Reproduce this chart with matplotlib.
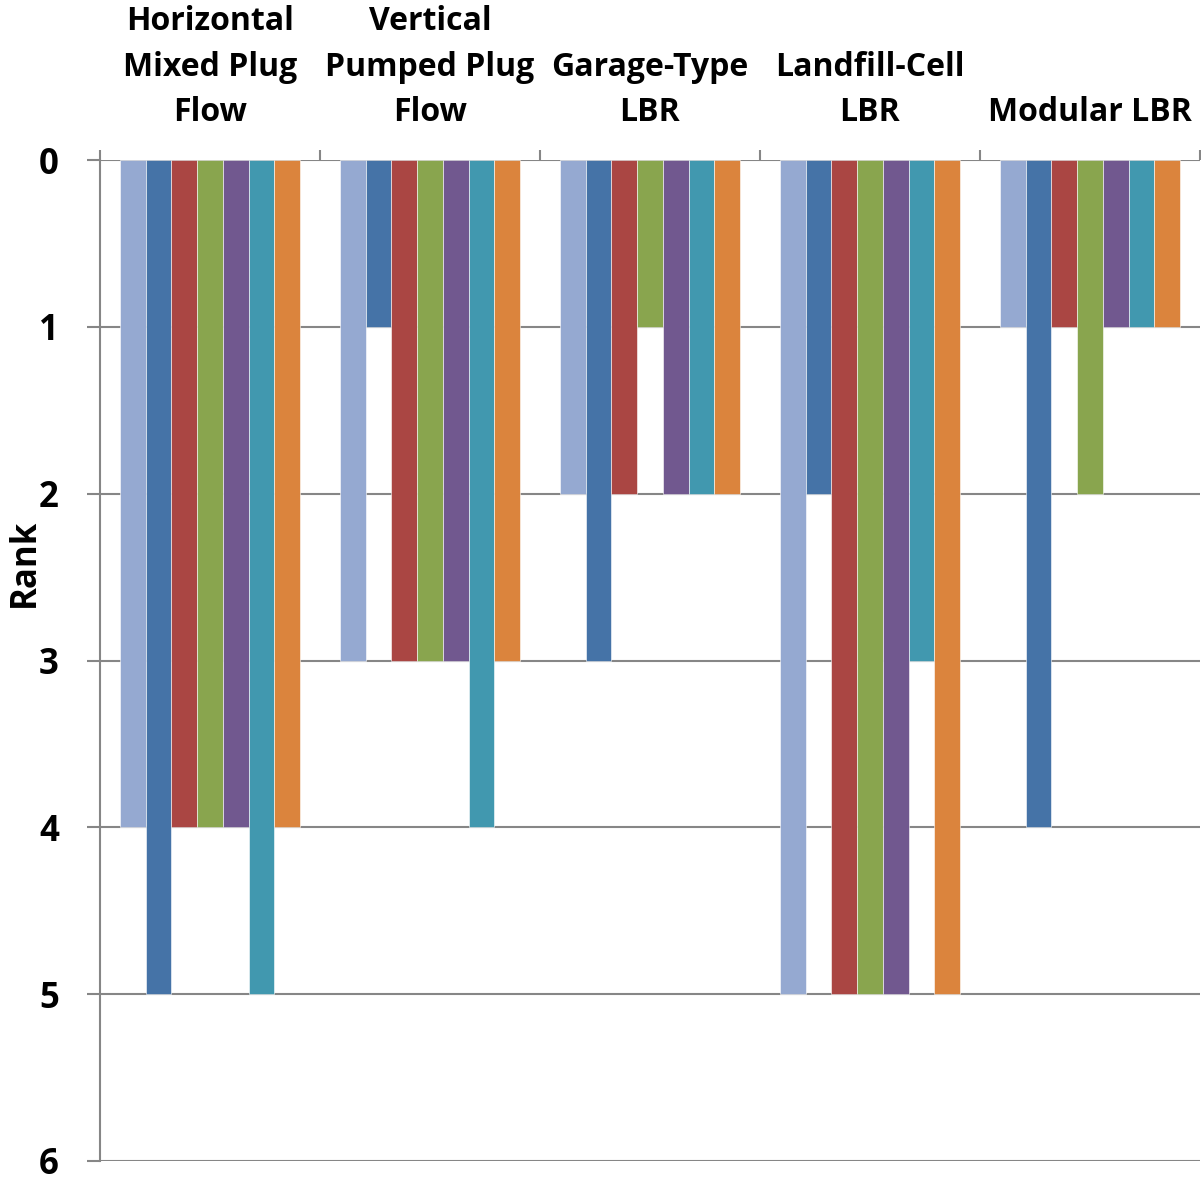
import matplotlib
matplotlib.use("Agg")
import matplotlib.pyplot as plt
import numpy as np

categories = ["Horizontal\nMixed Plug\nFlow", "Vertical\nPumped Plug\nFlow",
              "Garage-Type\nLBR", "Landfill-Cell\nLBR", "Modular LBR"]
series_values = [
    [4, 3, 2, 5, 1],
    [5, 1, 3, 2, 4],
    [4, 3, 2, 5, 1],
    [4, 3, 1, 5, 2],
    [4, 3, 2, 5, 1],
    [5, 4, 2, 3, 1],
    [4, 3, 2, 5, 1],
]
colors = ["#95A9D1", "#4573A7", "#AA4643", "#89A54E", "#71588F", "#4198AF", "#DB843D"]
y_ticks = [0, 1, 2, 3, 4, 5, 6]

plt.rcParams['font.family'] = ['Open Sans', 'DejaVu Sans']
fig = plt.figure(figsize=(12.01, 11.78), dpi=100)
ax = fig.add_axes([100/1201, 1 - 1161/1178, 1100/1201, 1001/1178])

n = len(series_values)
w = (180/220) / n
x = np.arange(len(categories))
for i, vals in enumerate(series_values):
    ax.bar(x + (i - (n - 1) / 2) * w, vals, width=w, color=colors[i],
           edgecolor="white", linewidth=0.4, zorder=3)

ax.set_xlim(-0.5, len(categories) - 0.5)
ax.set_ylim(6, 0)
ax.set_yticks(y_ticks)
ax.set_yticklabels([str(t) for t in y_ticks], fontsize=25, fontweight='bold')
ax.yaxis.grid(True, color="#868686", linewidth=1.5, zorder=0)
ax.tick_params(axis='y', length=9.5, width=1.5, color="#868686", pad=20)

ax.xaxis.tick_top()
ax.set_xticks(x)
ax.set_xticklabels(categories, fontsize=23, fontweight='bold', linespacing=1.5)
ax.set_xticks(np.arange(-0.5, len(categories), 1.0), minor=True)
ax.tick_params(axis='x', which='major', length=0, pad=22)
ax.tick_params(axis='x', which='minor', length=7.5, width=1.5, color="#868686", top=True, bottom=False)

for s in ['right', 'bottom', 'top']:
    ax.spines[s].set_visible(False)
ax.spines['left'].set_color("#868686")
ax.spines['left'].set_linewidth(1.5)
ax.set_axisbelow(True)

fig.text(25/1201, 1 - 563/1178, "Rank", rotation=90, ha='center', va='center',
         fontsize=25, fontweight='bold')

fig.savefig("out.png", dpi=100, facecolor="white")
